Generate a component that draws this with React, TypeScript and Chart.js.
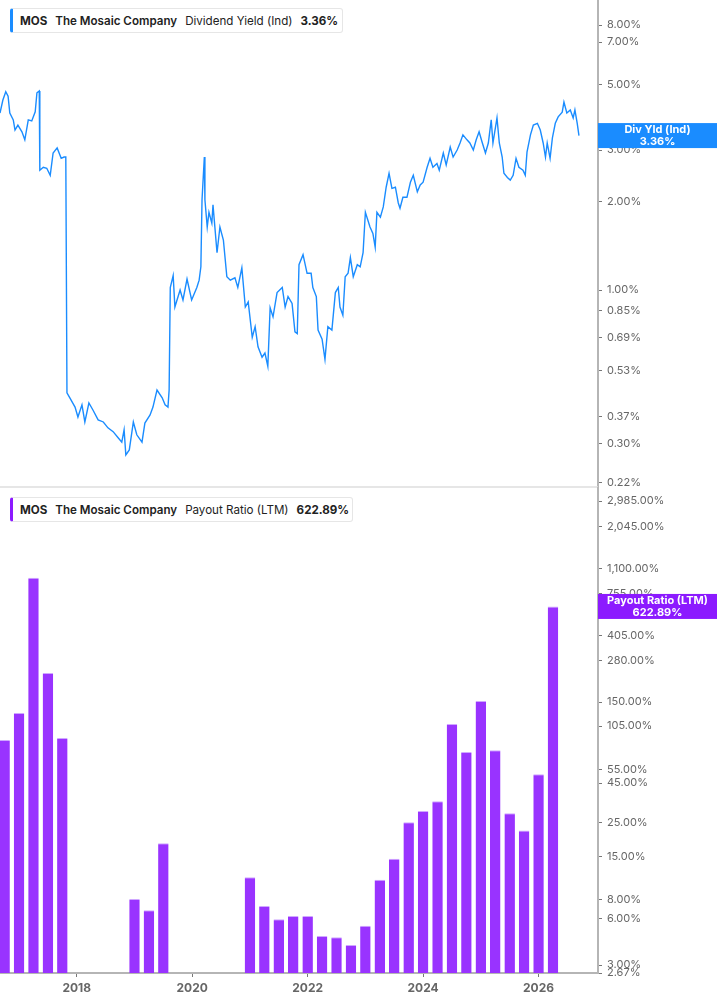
import { useEffect, useRef } from "react";
import { Chart, registerables } from "chart.js";

Chart.register(...registerables);

const FONT = "Inter, 'Noto Sans', Arial, sans-serif";

// Dividend Yield (Ind), in %, x = decimal year
const yieldDates = [
  2016.67, 2016.72, 2016.77, 2016.81, 2016.84, 2016.90, 2016.93, 2016.98, 2017.05, 2017.10,
  2017.16, 2017.22, 2017.28, 2017.31, 2017.35, 2017.36, 2017.42, 2017.48, 2017.54, 2017.59,
  2017.66, 2017.73, 2017.78, 2017.81, 2017.83, 2017.88, 2017.97, 2018.02, 2018.09, 2018.14,
  2018.21, 2018.28, 2018.37, 2018.46, 2018.54, 2018.63, 2018.72, 2018.78, 2018.82, 2018.85,
  2018.91, 2018.98, 2019.04, 2019.13, 2019.18, 2019.27, 2019.32, 2019.39, 2019.48, 2019.53,
  2019.58, 2019.60, 2019.62, 2019.67, 2019.70, 2019.79, 2019.84, 2019.91, 2019.99, 2020.08,
  2020.12, 2020.15, 2020.17, 2020.21, 2020.22, 2020.26, 2020.29, 2020.34, 2020.36, 2020.43,
  2020.48, 2020.54, 2020.60, 2020.66, 2020.74, 2020.79, 2020.86, 2020.92, 2020.97, 2021.04,
  2021.09, 2021.14, 2021.21, 2021.26, 2021.31, 2021.35, 2021.40, 2021.47, 2021.56, 2021.61,
  2021.66, 2021.73, 2021.78, 2021.82, 2021.85, 2021.92, 2021.99, 2022.06, 2022.09, 2022.15,
  2022.18, 2022.25, 2022.30, 2022.35, 2022.42, 2022.48, 2022.53, 2022.56, 2022.61, 2022.65,
  2022.70, 2022.74, 2022.79, 2022.86, 2022.91, 2022.96, 2023.00, 2023.08, 2023.13, 2023.17,
  2023.20, 2023.26, 2023.31, 2023.36, 2023.41, 2023.46, 2023.52, 2023.57, 2023.60, 2023.65,
  2023.72, 2023.78, 2023.83, 2023.90, 2023.95, 2024.00, 2024.07, 2024.12, 2024.17, 2024.24,
  2024.28, 2024.35, 2024.40, 2024.47, 2024.52, 2024.59, 2024.64, 2024.69, 2024.76, 2024.81,
  2024.87, 2024.92, 2024.97, 2025.02, 2025.08, 2025.13, 2025.18, 2025.21, 2025.28, 2025.32,
  2025.37, 2025.40, 2025.46, 2025.51, 2025.56, 2025.61, 2025.66, 2025.73, 2025.77, 2025.80,
  2025.86, 2025.91, 2025.98, 2026.03, 2026.08, 2026.12, 2026.15, 2026.20, 2026.24, 2026.29,
  2026.34, 2026.41, 2026.44, 2026.49, 2026.55, 2026.60, 2026.63, 2026.67, 2026.70,
];
const yieldValues = [
  4.01, 4.44, 4.74, 4.58, 4.01, 3.80, 3.51, 3.65, 3.46, 3.25,
  3.80, 3.77, 4.05, 4.70, 4.77, 2.56, 2.62, 2.60, 2.46, 2.93,
  3.05, 2.81, 2.84, 2.84, 0.446, 0.429, 0.399, 0.369, 0.406, 0.355,
  0.412, 0.390, 0.361, 0.355, 0.339, 0.329, 0.313, 0.303, 0.334, 0.274,
  0.285, 0.355, 0.321, 0.303, 0.352, 0.375, 0.399, 0.456, 0.429, 0.406,
  0.399, 0.456, 1.02, 1.12, 0.875, 1.00, 0.925, 1.09, 0.925, 1.02,
  1.08, 1.20, 2.03, 2.84, 2.03, 1.64, 1.84, 1.69, 1.95, 1.34,
  1.64, 1.48, 1.11, 1.08, 1.10, 1.02, 1.19, 0.875, 0.91, 0.69,
  0.75, 0.64, 0.59, 0.61, 0.55, 0.87, 0.81, 0.98, 1.02, 0.875,
  0.95, 0.90, 0.72, 0.71, 1.22, 1.32, 1.14, 1.14, 1.02, 0.95,
  0.73, 0.68, 0.58, 0.75, 0.73, 0.98, 1.02, 0.875, 0.82, 1.11,
  1.14, 1.29, 1.11, 1.22, 1.20, 1.34, 1.84, 1.64, 1.56, 1.40,
  1.84, 1.77, 1.92, 2.24, 2.50, 2.22, 2.24, 1.98, 1.90, 2.07,
  2.07, 2.33, 2.46, 2.16, 2.28, 2.33, 2.62, 2.81, 2.62, 2.70,
  2.56, 2.93, 2.67, 3.07, 2.84, 3.00, 3.17, 3.38, 3.25, 3.17,
  3.00, 3.25, 3.46, 3.20, 2.93, 3.17, 3.80, 3.17, 3.86, 3.17,
  2.84, 2.50, 2.42, 2.37, 2.46, 2.81, 2.62, 2.56, 2.46, 2.95,
  3.38, 3.65, 3.70, 3.51, 3.17, 2.84, 3.17, 2.81, 3.30, 3.70,
  3.89, 4.04, 4.37, 4.01, 4.11, 3.86, 4.11, 3.70, 3.36,
];
const yieldTicks = [8, 7, 5, 3, 2, 1, 0.85, 0.69, 0.53, 0.37, 0.3, 0.22];

// Payout Ratio (LTM), in %, one bar per quarter end
const payoutQuarters = [
  2016.75, 2017.0, 2017.25, 2017.5, 2017.75,
  2019.0, 2019.25, 2019.5,
  2021.0, 2021.25, 2021.5, 2021.75, 2022.0, 2022.25, 2022.5, 2022.75,
  2023.0, 2023.25, 2023.5, 2023.75, 2024.0, 2024.25, 2024.5, 2024.75,
  2025.0, 2025.25, 2025.5, 2025.75, 2026.0, 2026.25,
];
const payoutValues = [
  85.4, 127.6, 955, 231.5, 88.1,
  8.03, 6.79, 18.4,
  11.1, 7.24, 5.94, 6.23, 6.23, 4.63, 4.54, 4.05,
  5.4, 10.7, 14.6, 25.1, 29.7, 34.3, 108.4, 71.5,
  152.7, 73.3, 28.7, 22.2, 51.3, 622.89,
];
const payoutTicks = [2985, 2045, 1100, 755, 405, 280, 150, 105, 55, 45, 25, 15, 8, 6, 3, 2.67];

const yearTicks = [2018, 2020, 2022, 2024, 2026];
const X_MIN = 2016.67;
const X_MAX = 2027.03;

const BLUE = "#1a8cff";
const PURPLE = "#9933ff";
const PURPLE_TAG = "#8c1aff";

// last-value tag on the right axis + optional separator line
const valueTag = {
  id: "valueTag",
  afterDraw(chart: any, _args: any, opts: any) {
    const { ctx, chartArea } = chart;
    ctx.save();
    if (opts.separator) {
      ctx.strokeStyle = "#dedede";
      ctx.lineWidth = 1.5;
      ctx.beginPath();
      ctx.moveTo(0, chartArea.bottom);
      ctx.lineTo(chartArea.right, chartArea.bottom);
      ctx.stroke();
    }
    const y = chart.scales.y.getPixelForValue(opts.value);
    const w = chart.width - chartArea.right;
    ctx.fillStyle = opts.color;
    ctx.fillRect(chartArea.right, y - 12.5, w, 25);
    ctx.fillStyle = "#fff";
    ctx.font = `bold 11px ${FONT}`;
    ctx.textAlign = "center";
    ctx.textBaseline = "middle";
    const cx = chartArea.right + w / 2;
    ctx.fillText(opts.title, cx, y - 5.5);
    ctx.fillText(opts.text, cx, y + 6);
    ctx.restore();
  },
};

function rightAxis(min: number, max: number, ticks: number[], fmt: (v: number) => string) {
  return {
    type: "logarithmic" as const,
    position: "right" as const,
    min,
    max,
    afterBuildTicks: (s: any) => {
      s.ticks = ticks.map((v) => ({ value: v }));
    },
    afterFit: (s: any) => {
      s.width = 119;
      s.paddingTop = 0;
      s.paddingBottom = 0;
    },
    border: { display: true, color: "#b5b5b5", width: 2 },
    grid: { drawOnChartArea: false, drawTicks: true, tickLength: 4, tickColor: "#777", tickWidth: 1 },
    ticks: {
      padding: 5,
      color: "#666",
      font: { family: FONT, size: 11 },
      autoSkip: false,
      callback: (v: any) => fmt(Number(v)),
    },
  };
}

function SeriesTag(props: { top: number; width: number; color: string; metric: string; value: string }) {
  return (
    <div
      style={{
        position: "absolute",
        left: 10,
        top: props.top,
        width: props.width,
        height: 25,
        boxSizing: "border-box",
        border: "1px solid #e6e6e6",
        borderLeft: `3px solid ${props.color}`,
        borderRadius: 3,
        background: "#fff",
        display: "flex",
        alignItems: "center",
        paddingLeft: 7,
        fontFamily: FONT,
        fontSize: 11.6,
        color: "#222",
        whiteSpace: "nowrap",
        zIndex: 2,
      }}
    >
      <span style={{ fontWeight: 700 }}>MOS</span>
      <span style={{ fontWeight: 600, marginLeft: 8 }}>The Mosaic Company</span>
      <span style={{ marginLeft: 8 }}>{props.metric}</span>
      <span style={{ fontWeight: 700, marginLeft: 8 }}>{props.value}</span>
    </div>
  );
}

export default function App() {
  const topRef = useRef<HTMLCanvasElement>(null);
  const botRef = useRef<HTMLCanvasElement>(null);

  useEffect(() => {
    document.body.style.margin = "0";
    if (!topRef.current || !botRef.current) return;

    const lastYield = yieldValues[yieldValues.length - 1];
    const lastPayout = payoutValues[payoutValues.length - 1];

    const top = new Chart(topRef.current, {
      type: "line",
      data: {
        datasets: [
          {
            data: yieldDates.map((x, i) => ({ x, y: yieldValues[i] })),
            borderColor: BLUE,
            borderWidth: 1.4,
            pointRadius: 0,
            tension: 0,
          },
        ],
      },
      options: {
        animation: false,
        responsive: true,
        maintainAspectRatio: false,
        layout: { padding: { top: 0, bottom: 8, left: 0, right: 0 } },
        scales: {
          x: { type: "linear", min: X_MIN, max: X_MAX, display: false },
          y: rightAxis(0.2131, 9.737, yieldTicks, (v) => v.toFixed(2) + "%") as any,
        },
        plugins: {
          legend: { display: false },
          tooltip: { enabled: false },
          valueTag: { value: lastYield, color: BLUE, title: "Div Yld (Ind)", text: lastYield.toFixed(2) + "%", separator: true },
        } as any,
      },
      plugins: [valueTag],
    });

    const bot = new Chart(botRef.current, {
      type: "bar",
      data: {
        datasets: [
          {
            data: payoutQuarters.map((x, i) => ({ x, y: payoutValues[i] })),
            backgroundColor: PURPLE,
            borderColor: "#cfa8ff",
            borderWidth: { top: 1, left: 0, right: 0, bottom: 0 },
            borderSkipped: false,
            barPercentage: 0.91,
            categoryPercentage: 0.8,
          } as any,
        ],
      },
      options: {
        animation: false,
        responsive: true,
        maintainAspectRatio: false,
        layout: { padding: { top: 1, bottom: 0, left: 0, right: 0 } },
        scales: {
          x: {
            type: "linear",
            min: X_MIN,
            max: X_MAX,
            offset: false,
            afterBuildTicks: (s: any) => {
              s.ticks = yearTicks.map((v) => ({ value: v }));
            },
            afterFit: (s: any) => {
              s.height = 32;
              s.paddingLeft = 0;
              s.paddingRight = 0;
            },
            border: { display: true, color: "#b5b5b5", width: 2 },
            grid: { offset: false, drawOnChartArea: false, drawTicks: true, tickLength: 4, tickColor: "#777" },
            ticks: {
              padding: 4,
              color: "#666",
              font: { family: FONT, size: 12, weight: "bold" },
              maxRotation: 0,
              autoSkip: false,
              callback: (v: any) => String(v),
            },
          },
          y: rightAxis(2.67, 3627, payoutTicks, (v) =>
            v.toLocaleString("en-US", { minimumFractionDigits: 2, maximumFractionDigits: 2 }) + "%"
          ) as any,
        },
        plugins: {
          legend: { display: false },
          tooltip: { enabled: false },
          valueTag: { value: lastPayout, color: PURPLE_TAG, title: "Payout Ratio (LTM)", text: lastPayout.toFixed(2) + "%" },
        } as any,
      },
      plugins: [valueTag],
    });

    return () => {
      top.destroy();
      bot.destroy();
    };
  }, []);

  return (
    <div style={{ position: "relative", width: 717, height: 1005, background: "#fff", overflow: "hidden" }}>
      <div style={{ position: "absolute", left: 0, top: 0, width: 717, height: 495 }}>
        <canvas ref={topRef} />
      </div>
      <div style={{ position: "absolute", left: 0, top: 487, width: 717, height: 518 }}>
        <canvas ref={botRef} />
      </div>
      <SeriesTag top={8} width={333} color={BLUE} metric="Dividend Yield (Ind)" value="3.36%" />
      <SeriesTag top={497} width={343} color={PURPLE_TAG} metric="Payout Ratio (LTM)" value="622.89%" />
    </div>
  );
}
